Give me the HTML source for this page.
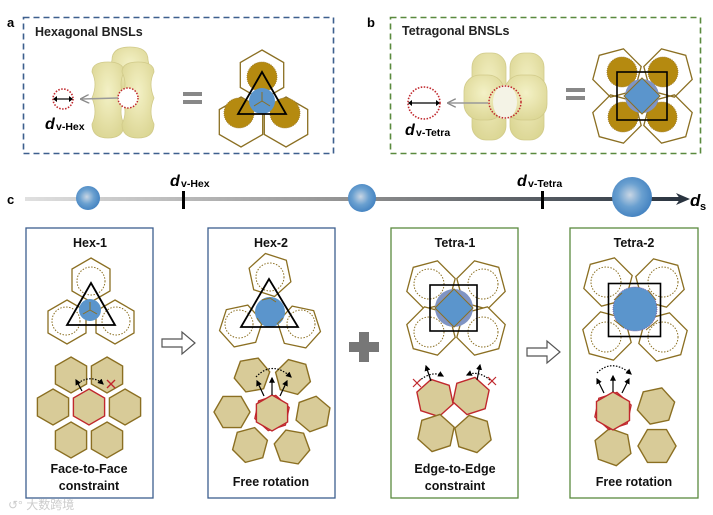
<!DOCTYPE html>
<html><head><meta charset="utf-8"><style>
html,body{margin:0;padding:0;background:#fff;}
svg{display:block;font-family:"Liberation Sans",Arial,sans-serif;}
</style></head><body>
<svg width="713" height="515" viewBox="0 0 713 515" xmlns="http://www.w3.org/2000/svg">
<defs>
<polygon id="h18" points="0,-18 15.6,-9 15.6,9 0,18 -15.6,9 -15.6,-9"/>
<polygon id="h19" points="0,-19 16.5,-9.5 16.5,9.5 0,19 -16.5,9.5 -16.5,-9.5"/>
<polygon id="h21" points="0,-21 18.2,-10.5 18.2,10.5 0,21 -18.2,10.5 -18.2,-10.5"/>
<polygon id="h22" points="0,-22 19,-11 19,11 0,22 -19,11 -19,-11"/>
<polygon id="h25" points="0,-25 21.7,-12.5 21.7,12.5 0,25 -21.7,12.5 -21.7,-12.5"/>
<radialGradient id="sph" cx="0.45" cy="0.45" r="0.6"><stop offset="0" stop-color="#c9d6e4"/><stop offset="0.5" stop-color="#6aa0d0"/><stop offset="1" stop-color="#3f7fbf"/></radialGradient>
<linearGradient id="ax" x1="0" x2="1"><stop offset="0" stop-color="#e0e0e0"/><stop offset="0.5" stop-color="#909090"/><stop offset="1" stop-color="#2a3440"/></linearGradient>
<radialGradient id="blob" cx="0.5" cy="0.4" r="0.7"><stop offset="0" stop-color="#f4f1c4"/><stop offset="1" stop-color="#d8d28a"/></radialGradient>
<marker id="ah" viewBox="0 0 10 10" refX="8" refY="5" markerWidth="5" markerHeight="5" orient="auto"><path d="M0,0L10,5L0,10z" fill="#000"/></marker>
<marker id="ahg" viewBox="0 0 10 10" refX="8" refY="5" markerWidth="6" markerHeight="6" orient="auto"><path d="M0,0L10,5L0,10" fill="none" stroke="#888" stroke-width="1.5"/></marker>
</defs>

<!-- Panel a -->
<text x="7" y="27" font-size="13" font-weight="bold">a</text>
<rect x="23.5" y="17.5" width="310" height="136" fill="none" stroke="#3d5f8e" stroke-width="1.6" stroke-dasharray="6,4"/>
<text x="35" y="36" font-size="12.5" font-weight="bold" fill="#222">Hexagonal BNSLs</text>
<g fill="url(#blob)" stroke="#cfc884" stroke-width="0.8" opacity="0.95">
 <path d="M112,60 Q112,47 130,47 Q148,47 148,60 L150,70 Q140,80 150,90 L110,90 Q120,80 110,70z"/>
 <path d="M92,72 Q92,62 108,62 Q124,62 124,72 Q118,84 124,98 Q118,112 124,124 Q124,138 108,138 Q92,138 92,124 Q98,112 92,98 Q98,84 92,72z"/>
 <path d="M122,72 Q122,62 138,62 Q154,62 154,72 Q148,84 154,98 Q148,112 154,124 Q154,138 138,138 Q122,138 122,124 Q128,112 122,98 Q128,84 122,72z"/>
</g>
<circle cx="128" cy="98" r="10" fill="#fff" stroke="#c0282d" stroke-width="1.5" stroke-dasharray="1.5,1.5"/>
<line x1="118" y1="98" x2="82" y2="99" stroke="#999" stroke-width="1.5" marker-end="url(#ahg)"/>
<circle cx="63" cy="99" r="10" fill="#fff" stroke="#c0282d" stroke-width="1.6" stroke-dasharray="1.5,1.5"/>
<line x1="55" y1="99" x2="71" y2="99" stroke="#000" stroke-width="1.2"/>
<path d="M53,99l4,-3v6z M73,99l-4,-3v6z" fill="#000"/>
<text x="45" y="129" font-size="16" font-weight="bold" font-style="italic">d</text><text x="56" y="130" font-size="10.5" font-weight="bold">v-Hex</text>
<rect x="183" y="92" width="19" height="4" fill="#888"/><rect x="183" y="100" width="19" height="4" fill="#888"/>
<g fill="none" stroke="#8b6f22" stroke-width="1.3">
 <use href="#h25" x="262" y="75"/><use href="#h25" x="241" y="122"/><use href="#h25" x="286" y="122"/>
</g>
<g fill="#b58a10" stroke="#9a7a30" stroke-width="0.8" stroke-dasharray="1,1">
 <circle cx="262" cy="77" r="15"/><circle cx="239" cy="113" r="15"/><circle cx="285" cy="113" r="15"/>
</g>
<circle cx="262" cy="101" r="13" fill="#5b95cc"/>
<path d="M262,101v-9M262,101l8,5M262,101l-8,5" stroke="#8b6f22" stroke-width="1"/>
<polygon points="262,72 238,114 286,114" fill="none" stroke="#000" stroke-width="1.8"/>

<!-- Panel b -->
<text x="367" y="27" font-size="13" font-weight="bold">b</text>
<rect x="390.5" y="17.5" width="310" height="136" fill="none" stroke="#5a8a3e" stroke-width="1.6" stroke-dasharray="6,4"/>
<text x="402" y="35" font-size="12.5" font-weight="bold" fill="#222">Tetragonal BNSLs</text>
<g fill="url(#blob)" stroke="#cfc884" stroke-width="0.8" opacity="0.95">
 <rect x="472" y="53" width="34" height="87" rx="14"/>
 <rect x="510" y="53" width="34" height="87" rx="14"/>
 <rect x="464" y="75" width="40" height="45" rx="16"/>
 <rect x="505" y="75" width="42" height="45" rx="16"/>
</g>
<ellipse cx="505" cy="102" rx="12" ry="17" fill="#f4f3e6"/>
<circle cx="505" cy="102" r="16" fill="none" stroke="#c0282d" stroke-width="1.5" stroke-dasharray="1.5,1.5"/>
<line x1="488" y1="103" x2="449" y2="103" stroke="#999" stroke-width="1.5" marker-end="url(#ahg)"/>
<circle cx="424" cy="103" r="16" fill="#fff" stroke="#c0282d" stroke-width="1.6" stroke-dasharray="1.5,1.5"/>
<line x1="410" y1="103" x2="438" y2="103" stroke="#000" stroke-width="1.2"/>
<path d="M408,103l4,-3v6z M440,103l-4,-3v6z" fill="#000"/>
<text x="405" y="135" font-size="16" font-weight="bold" font-style="italic">d</text><text x="416" y="136" font-size="10.5" font-weight="bold">v-Tetra</text>
<rect x="566" y="88" width="19" height="4" fill="#888"/><rect x="566" y="96" width="19" height="4" fill="#888"/>
<g fill="none" stroke="#8b6f22" stroke-width="1.3">
 <use href="#h25" x="617" y="73" transform="rotate(15 617 73)"/>
 <use href="#h25" x="668" y="73" transform="rotate(-15 668 73)"/>
 <use href="#h25" x="617" y="119" transform="rotate(-15 617 119)"/>
 <use href="#h25" x="668" y="119" transform="rotate(15 668 119)"/>
</g>
<g fill="#b58a10" stroke="#9a7a30" stroke-width="0.8" stroke-dasharray="1,1">
 <circle cx="622" cy="72" r="15"/><circle cx="663" cy="72" r="15"/><circle cx="623" cy="117" r="15"/><circle cx="662" cy="117" r="15"/>
</g>
<circle cx="642" cy="96" r="17" fill="#7f94c4"/>
<polygon points="642,78 660,96 642,114 624,96" fill="#5b95cc" stroke="#8b6f22" stroke-width="1"/>
<rect x="617" y="72" width="50" height="48" fill="none" stroke="#000" stroke-width="1.6"/>

<!-- Axis c -->
<text x="7" y="204" font-size="13" font-weight="bold">c</text>
<rect x="25" y="197" width="655" height="4" fill="url(#ax)"/>
<path d="M676,193l14,6l-14,6l4,-6z" fill="#2a3440"/>
<circle cx="88" cy="198" r="12" fill="url(#sph)"/>
<circle cx="362" cy="198" r="14" fill="url(#sph)"/>
<circle cx="632" cy="197" r="20" fill="url(#sph)"/>
<rect x="182" y="191" width="3" height="18" fill="#000"/>
<rect x="541" y="191" width="3" height="18" fill="#000"/>
<text x="170" y="186" font-size="16" font-weight="bold" font-style="italic">d</text><text x="181" y="187" font-size="10.5" font-weight="bold">v-Hex</text>
<text x="517" y="186" font-size="16" font-weight="bold" font-style="italic">d</text><text x="528" y="187" font-size="10.5" font-weight="bold">v-Tetra</text>
<text x="690" y="206" font-size="17" font-weight="bold" font-style="italic">d</text><text x="700" y="210" font-size="11" font-weight="bold">s</text>

<!-- Boxes -->
<rect x="26" y="228" width="127" height="270" fill="none" stroke="#3d5f8e" stroke-width="1.3"/>
<rect x="208" y="228" width="127" height="270" fill="none" stroke="#3d5f8e" stroke-width="1.3"/>
<rect x="391" y="228" width="127" height="270" fill="none" stroke="#5a8a3e" stroke-width="1.3"/>
<rect x="570" y="228" width="128" height="270" fill="none" stroke="#5a8a3e" stroke-width="1.3"/>
<g font-size="12.5" font-weight="bold" text-anchor="middle" fill="#111">
 <text x="90" y="247">Hex-1</text><text x="271" y="247">Hex-2</text>
 <text x="455" y="247">Tetra-1</text><text x="634" y="247">Tetra-2</text>
 <text x="89" y="473">Face-to-Face</text><text x="89" y="490">constraint</text>
 <text x="271" y="486">Free rotation</text>
 <text x="455" y="473">Edge-to-Edge</text><text x="455" y="490">constraint</text>
 <text x="634" y="486">Free rotation</text>
</g>
<path d="M162,339h20v-7l13,11l-13,11v-7h-20z" fill="#fff" stroke="#555" stroke-width="1.2"/>
<path d="M527,348h20v-7l13,11l-13,11v-7h-20z" fill="#fff" stroke="#555" stroke-width="1.2"/>
<path d="M359,332h10v10h10v10h-10v10h-10v-10h-10v-10h10z" fill="#777"/>

<!-- Hex-1 top -->
<g fill="#fff" stroke="#8b6f22" stroke-width="1.3">
 <use href="#h22" x="91" y="280"/><use href="#h22" x="67" y="322"/><use href="#h22" x="115" y="322"/>
</g>
<g fill="none" stroke="#8b6f22" stroke-width="1" stroke-dasharray="1.5,1.5">
 <circle cx="91" cy="281" r="14"/><circle cx="66" cy="321" r="14"/><circle cx="116" cy="321" r="14"/>
</g>
<circle cx="90" cy="310" r="11" fill="#5b95cc"/>
<path d="M90,310v-8M90,310l7,4M90,310l-7,4" stroke="#8b6f22" stroke-width="1"/>
<polygon points="91,283 67,325 115,325" fill="none" stroke="#000" stroke-width="1.8"/>
<!-- Hex-1 bottom -->
<g fill="#d8cb98" stroke="#8b6f22" stroke-width="1.4">
 <use href="#h18" x="71" y="375"/><use href="#h18" x="107" y="375"/>
 <use href="#h18" x="53" y="407"/><use href="#h18" x="125" y="407"/>
 <use href="#h18" x="71" y="440"/><use href="#h18" x="107" y="440"/>
 <use href="#h18" x="89" y="407" stroke="#c0282d"/>
</g>
<line x1="82" y1="391" x2="76" y2="380" stroke="#000" stroke-width="1.2" marker-end="url(#ah)"/>
<path d="M78,383 Q92,374 103,384" fill="none" stroke="#000" stroke-width="1.2" stroke-dasharray="1.5,1.5" marker-end="url(#ah)"/>
<path d="M107,380l8,8M115,380l-8,8" stroke="#c0282d" stroke-width="1.4"/>

<!-- Hex-2 top -->
<g fill="#fff" stroke="#8b6f22" stroke-width="1.3">
 <use href="#h22" x="270" y="275" transform="rotate(-12 270 275)"/>
 <use href="#h22" x="241" y="326" transform="rotate(18 241 326)"/>
 <use href="#h22" x="299" y="327" transform="rotate(-18 299 327)"/>
</g>
<g fill="none" stroke="#8b6f22" stroke-width="1" stroke-dasharray="1.5,1.5">
 <circle cx="270" cy="277" r="14"/><circle cx="239" cy="324" r="14"/><circle cx="301" cy="324" r="14"/>
</g>
<circle cx="270" cy="312" r="15" fill="#5b95cc"/>
<path d="M262,300l8,-2l6,4M257,318l5,7M283,318l-6,6" stroke="#8b6f22" stroke-width="1" fill="none"/>
<polygon points="269,279 241,327 298,327" fill="none" stroke="#000" stroke-width="1.8"/>
<!-- Hex-2 bottom -->
<g fill="#d8cb98" stroke="#8b6f22" stroke-width="1.4">
 <use href="#h18" x="252" y="375" transform="rotate(20 252 375)"/>
 <use href="#h18" x="293" y="377" transform="rotate(-15 293 377)"/>
 <use href="#h18" x="232" y="412" transform="rotate(30 232 412)"/>
 <use href="#h18" x="313" y="414" transform="rotate(10 313 414)"/>
 <use href="#h18" x="250" y="445" transform="rotate(15 250 445)"/>
 <use href="#h18" x="292" y="447" transform="rotate(-20 292 447)"/>
 <use href="#h18" x="272" y="413" transform="rotate(12 272 413)" fill="none" stroke="#c0282d"/>
 <use href="#h18" x="272" y="413" stroke="#c0282d"/>
</g>
<g stroke="#000" stroke-width="1.2" marker-end="url(#ah)">
 <line x1="264" y1="396" x2="257" y2="381"/><line x1="272" y1="395" x2="272" y2="378"/><line x1="280" y1="396" x2="287" y2="381"/>
</g>
<path d="M256,377 Q272,360 291,377" fill="none" stroke="#000" stroke-width="1.2" stroke-dasharray="1.5,1.5" marker-end="url(#ah)"/>

<!-- Tetra-1 top -->
<g fill="#fff" stroke="#8b6f22" stroke-width="1.3">
 <use href="#h25" x="431" y="285" transform="rotate(15 431 285)"/>
 <use href="#h25" x="481" y="285" transform="rotate(-15 481 285)"/>
 <use href="#h25" x="431" y="331" transform="rotate(-15 431 331)"/>
 <use href="#h25" x="481" y="331" transform="rotate(15 481 331)"/>
</g>
<g fill="none" stroke="#8b6f22" stroke-width="1" stroke-dasharray="1.5,1.5">
 <circle cx="429" cy="284" r="15"/><circle cx="483" cy="284" r="15"/><circle cx="429" cy="332" r="15"/><circle cx="483" cy="332" r="15"/>
</g>
<circle cx="454" cy="308" r="19" fill="#7f94c4"/>
<polygon points="454,289 473,308 454,327 435,308" fill="#5b95cc" stroke="#8b6f22" stroke-width="1"/>
<rect x="430" y="285" width="47" height="46" fill="none" stroke="#000" stroke-width="1.6"/>
<!-- Tetra-1 bottom -->
<g fill="#d8cb98" stroke="#8b6f22" stroke-width="1.4">
 <use href="#h19" x="435" y="398" transform="rotate(-12 435 398)" stroke="#c0282d"/>
 <use href="#h19" x="471" y="396" transform="rotate(12 471 396)" stroke="#c0282d"/>
 <use href="#h19" x="436" y="433" transform="rotate(12 436 433)"/>
 <use href="#h19" x="473" y="434" transform="rotate(-12 473 434)"/>
</g>
<g stroke="#000" stroke-width="1.2" marker-end="url(#ah)">
 <line x1="431" y1="381" x2="426" y2="366"/><line x1="477" y1="380" x2="480" y2="365"/>
</g>
<path d="M419,381 Q432,370 443,376" fill="none" stroke="#000" stroke-width="1.2" stroke-dasharray="1.5,1.5" marker-end="url(#ah)"/>
<path d="M490,380 Q478,370 467,375" fill="none" stroke="#000" stroke-width="1.2" stroke-dasharray="1.5,1.5" marker-end="url(#ah)"/>
<path d="M413,379l8,8M421,379l-8,8M488,377l8,8M496,377l-8,8" stroke="#c0282d" stroke-width="1.2"/>

<!-- Tetra-2 top -->
<g fill="#fff" stroke="#8b6f22" stroke-width="1.3">
 <use href="#h25" x="608" y="282" transform="rotate(15 608 282)"/>
 <use href="#h25" x="660" y="283" transform="rotate(-15 660 283)"/>
 <use href="#h25" x="607" y="336" transform="rotate(-15 607 336)"/>
 <use href="#h25" x="663" y="337" transform="rotate(15 663 337)"/>
</g>
<g fill="none" stroke="#8b6f22" stroke-width="1" stroke-dasharray="1.5,1.5">
 <circle cx="606" cy="282" r="15"/><circle cx="663" cy="282" r="15"/><circle cx="606" cy="337" r="15"/><circle cx="663" cy="337" r="15"/>
</g>
<circle cx="635" cy="309" r="22" fill="#5b95cc" stroke="#7f5aa0" stroke-width="0.8" stroke-dasharray="1,1"/>
<path d="M614,300l8,-7M648,290l8,10M614,320l10,8M646,330l12,-10" stroke="#8b6f22" stroke-width="1" fill="none"/>
<rect x="608.5" y="283.5" width="52" height="53" fill="none" stroke="#000" stroke-width="1.6"/>
<!-- Tetra-2 bottom -->
<g fill="#d8cb98" stroke="#8b6f22" stroke-width="1.4">
 <use href="#h19" x="656" y="406" transform="rotate(18 656 406)"/>
 <use href="#h19" x="613" y="447" transform="rotate(-10 613 447)"/>
 <use href="#h19" x="657" y="446" transform="rotate(30 657 446)"/>
 <use href="#h19" x="613" y="411" transform="rotate(12 613 411)" fill="none" stroke="#c0282d"/>
 <use href="#h19" x="613" y="411" stroke="#c0282d"/>
</g>
<g stroke="#000" stroke-width="1.2" marker-end="url(#ah)">
 <line x1="604" y1="393" x2="597" y2="379"/><line x1="613" y1="392" x2="613" y2="376"/><line x1="622" y1="393" x2="629" y2="379"/>
</g>
<path d="M597,373 Q612,358 631,374" fill="none" stroke="#000" stroke-width="1.2" stroke-dasharray="1.5,1.5" marker-end="url(#ah)"/>

<text x="8" y="509" font-size="12" fill="#ccc" font-family="'Liberation Sans','Noto Sans CJK SC',sans-serif">↺° 大数跨境</text>
</svg>
</body></html>
